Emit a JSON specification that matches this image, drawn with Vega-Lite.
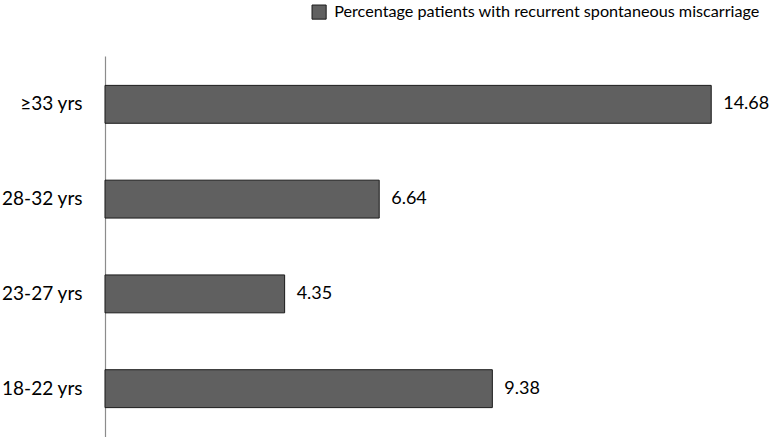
{
  "$schema": "https://vega.github.io/schema/vega-lite/v6.json",
  "autosize": {"type": "none"},
  "width": 669,
  "height": 381,
  "padding": {"left": 105, "top": 56, "right": 0, "bottom": 0},
  "background": "white",
  "config": {"view": {"stroke": null}, "font": "Lato"},
  "data": {"values": [
    {"age": "≥33 yrs", "pct": 14.68, "series": "Percentage patients with recurrent spontaneous miscarriage"},
    {"age": "28-32 yrs", "pct": 6.64, "series": "Percentage patients with recurrent spontaneous miscarriage"},
    {"age": "23-27 yrs", "pct": 4.35, "series": "Percentage patients with recurrent spontaneous miscarriage"},
    {"age": "18-22 yrs", "pct": 9.38, "series": "Percentage patients with recurrent spontaneous miscarriage"}
  ]},
  "encoding": {
    "y": {"field": "age", "type": "nominal", "sort": ["≥33 yrs", "28-32 yrs", "23-27 yrs", "18-22 yrs"],
      "scale": {"paddingInner": 0.6, "paddingOuter": 0.31},
      "axis": {"title": null, "ticks": false, "labelPadding": 23, "labelFontSize": 19, "labelColor": "#000", "domainColor": "#8c8c8c", "domainWidth": 1.2}},
    "x": {"field": "pct", "type": "quantitative", "scale": {"domain": [0, 16.2], "nice": false}, "axis": null}
  },
  "layer": [
    {"mark": {"type": "bar", "stroke": "#1a1a1a", "strokeWidth": 1},
     "encoding": {"color": {"field": "series", "type": "nominal", "scale": {"range": ["#606060"]},
       "legend": {"title": null, "orient": "none", "legendX": 206, "legendY": -52, "symbolType": "square", "symbolSize": 200, "symbolStrokeColor": "#1a1a1a", "symbolStrokeWidth": 1, "labelFontSize": 16.2, "labelColor": "#000", "labelLimit": 600, "labelOffset": 7}}}},
    {"mark": {"type": "text", "align": "left", "dx": 12, "fontSize": 18, "color": "#000"},
     "encoding": {"text": {"field": "pct", "type": "quantitative", "format": ".2f"}}}
  ]
}
